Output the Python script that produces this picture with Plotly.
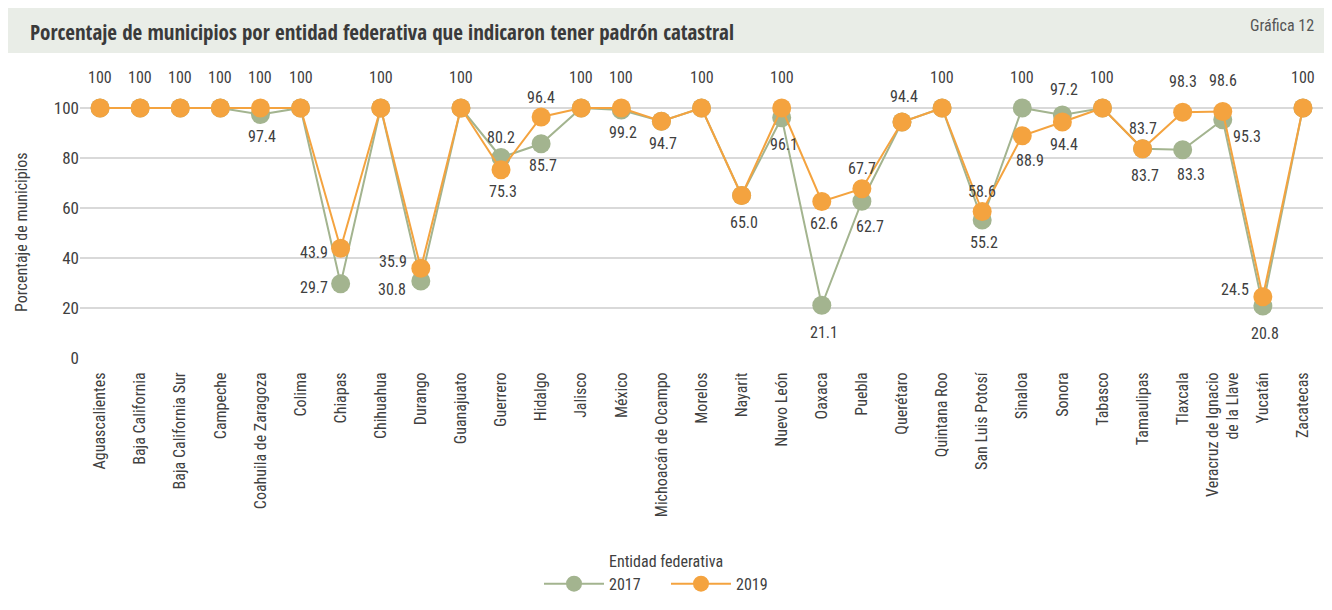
import plotly.graph_objects as go

states = ["Aguascalientes", "Baja California", "Baja California Sur", "Campeche",
          "Coahuila de Zaragoza", "Colima", "Chiapas", "Chihuahua", "Durango",
          "Guanajuato", "Guerrero", "Hidalgo", "Jalisco", "México",
          "Michoacán de Ocampo", "Morelos", "Nayarit", "Nuevo León", "Oaxaca",
          "Puebla", "Querétaro", "Quintana Roo", "San Luis Potosí", "Sinaloa",
          "Sonora", "Tabasco", "Tamaulipas", "Tlaxcala",
          "Veracruz de Ignacio<br>de la Llave", "Yucatán", "Zacatecas"]

v2017 = [100, 100, 100, 100, 97.4, 100, 29.7, 100, 30.8, 100, 80.2, 85.7, 100, 99.2,
         94.7, 100, 65.0, 96.1, 21.1, 62.7, 94.4, 100, 55.2, 100, 97.2, 100, 83.7,
         83.3, 95.3, 20.8, 100]
v2019 = [100, 100, 100, 100, 100, 100, 43.9, 100, 35.9, 100, 75.3, 96.4, 100, 100,
         94.7, 100, 65.0, 100, 62.6, 67.7, 94.4, 100, 58.6, 88.9, 94.4, 100, 83.7,
         98.3, 98.6, 24.5, 100]

y_ticks = [0, 20, 40, 60, 80, 100]

# label placement (style): which labels to show and where
place17 = [None, None, None, None, "below", None, "left", None, "leftdown", None,
           "above", "below", None, "below", None, None, None, "below2", "below2",
           "belowright", None, None, "below", "top", "above2", None, "below2",
           "belowright", "right", "below2", None]
place19 = ["top", "top", "top", "top", "top", "top", "left", "top", "leftup", "top",
           "below", "above", "top", "top", "below", "top", "below2", "top", "below",
           "above", "above2", "top", "above", "belowright", "below", "top", "above",
           "top", "top", "leftup", "top"]
offsets = {"top": (0, -31), "above": (0, -20), "above2": (2, -26), "below": (2, 22),
           "below2": (2, 27), "left": (-27, 4), "leftup": (-28, -7),
           "leftdown": (-29, 8), "right": (24, 17), "belowright": (8, 25)}

GREEN = "#a3b48f"
ORANGE = "#f4a33f"
TXT = "#404040"
FONT = "Roboto Condensed, DejaVu Sans Condensed, sans-serif"
TFONT = "Open Sans Condensed, Roboto Condensed, sans-serif"

xs = list(range(len(states)))

fig = go.Figure()
fig.add_trace(go.Scatter(x=xs, y=v2017, mode="lines+markers", name="2017",
                         line=dict(color=GREEN, width=2),
                         marker=dict(color=GREEN, size=19)))
fig.add_trace(go.Scatter(x=xs, y=v2019, mode="lines+markers", name="2019",
                         line=dict(color=ORANGE, width=2),
                         marker=dict(color=ORANGE, size=19)))

def fmt(v):
    return "100" if v == 100 else f"{v:.1f}"

annotations = []
for vals, places in ((v2017, place17), (v2019, place19)):
    for i, (v, p) in enumerate(zip(vals, places)):
        if p is None:
            continue
        dx, dy = offsets[p]
        annotations.append(dict(x=xs[i], y=v, xref="x", yref="y", text=fmt(v),
                                showarrow=False, xshift=dx, yshift=-dy,
                                font=dict(size=16, color=TXT, family=FONT)))

# page shows the figure with an 8px offset; geometry below is in target pixels
OFF = 8
W, H = 1332 - OFF, 610 - OFF
L, T = 80 - OFF, 62 - OFF
PB, PR = 358 - OFF, 1323 - OFF
R, B = W - PR, H - PB
pw, ph = W - L - R, H - T - B
def px(x):
    return (x - OFF - L) / pw
def py(y):
    return (H - B - (y - OFF)) / ph

annotations.append(dict(xref="paper", yref="paper", x=px(28), y=py(32), xanchor="left",
                        yanchor="middle", showarrow=False,
                        text="<b>Porcentaje de municipios por entidad federativa que indicaron tener padrón catastral</b>",
                        font=dict(size=21, color="#3a3a3a", family=TFONT)))
annotations.append(dict(xref="paper", yref="paper", x=px(1316), y=py(25), xanchor="right",
                        yanchor="middle", showarrow=False, text="Gráfica 12",
                        font=dict(size=16, color="#555555", family=FONT)))
annotations.append(dict(xref="paper", yref="paper", x=px(21), y=py(232), xanchor="center",
                        yanchor="middle", showarrow=False, textangle=-90,
                        text="Porcentaje de municipios",
                        font=dict(size=16, color=TXT, family=FONT)))

shapes = [dict(type="rect", xref="paper", yref="paper", x0=px(5), x1=px(1340),
               y0=py(53), y1=py(6), fillcolor="#e9ede7", line=dict(width=0), layer="below")]

fig.update_layout(
    width=W, height=H,
    margin=dict(l=L, r=R, t=T, b=B, autoexpand=False),
    paper_bgcolor="white", plot_bgcolor="white",
    font=dict(family=FONT, color=TXT, size=16),
    showlegend=True,
    legend=dict(orientation="h", x=px(666), xanchor="center", y=py(546), yanchor="top",
                title=dict(text="Entidad federativa", side="top center",
                           font=dict(size=16, color=TXT)),
                font=dict(size=16, color=TXT), itemwidth=60,
                entrywidth=52, entrywidthmode="pixels"),
    annotations=annotations,
    shapes=shapes,
    xaxis=dict(range=[-0.5, len(states) - 0.5], tickvals=xs, ticktext=states,
               tickangle=-90, showgrid=False, zeroline=False, showline=False,
               ticks="outside", ticklen=7, tickcolor="rgba(0,0,0,0)",
               tickfont=dict(size=16, color=TXT), automargin=False),
    yaxis=dict(range=[0, ph / 2.5], tickvals=y_ticks, showgrid=True,
               gridcolor="#d9d9d9", gridwidth=1.5, zeroline=False, showline=False,
               ticks="", tickfont=dict(size=17, color=TXT), automargin=False),
)

fig.write_html("out.html")
